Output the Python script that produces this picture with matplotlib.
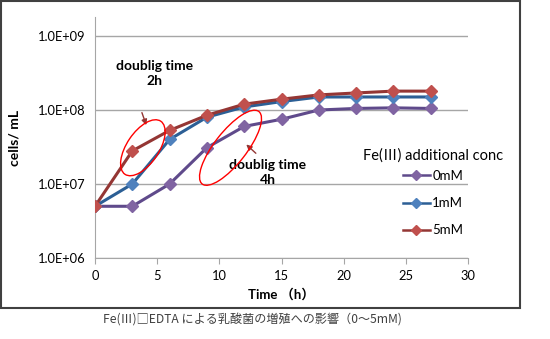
import matplotlib
matplotlib.use("Agg")
from matplotlib import pyplot as plt
from matplotlib.patches import Ellipse, Rectangle
from matplotlib.transforms import IdentityTransform
import numpy as np

plt.rcParams['font.family'] = ['Lato', 'Noto Sans CJK JP', 'DejaVu Sans']

time_h = [0, 3, 6, 9, 12, 15, 18, 21, 24, 27]
cells_0mM = [5e6, 5e6, 1e7, 3.1e7, 6e7, 7.5e7, 1.0e8, 1.05e8, 1.07e8, 1.05e8]
cells_1mM = [5e6, 1e7, 4e7, 8e7, 1.1e8, 1.3e8, 1.5e8, 1.5e8, 1.5e8, 1.5e8]
cells_5mM = [5e6, 2.8e7, 5.3e7, 8.5e7, 1.2e8, 1.4e8, 1.6e8, 1.7e8, 1.8e8, 1.8e8]

series = [
    ("0mM", cells_0mM, "#5f4a8b", "#8064a2"),
    ("1mM", cells_1mM, "#2c5f95", "#4f81bd"),
    ("5mM", cells_5mM, "#943634", "#c0504d"),
]

y_ticks = [1e6, 1e7, 1e8, 1e9]
y_labels = ["1.0E+06", "1.0E+07", "1.0E+08", "1.0E+09"]
x_ticks = [0, 5, 10, 15, 20, 25, 30]

fig = plt.figure(figsize=(5.5, 3.39), dpi=100)
ax = fig.add_axes([95 / 550, 81 / 339, 373 / 550, 241 / 339])

for label, values, line_c, mark_c in series:
    ax.plot(time_h, values, color=line_c, lw=2.2, marker="D", ms=6,
            mfc=mark_c, mec=mark_c, label=label, zorder=3)

ax.set_yscale("log")
ax.set_ylim(1e6, 10 ** 9.257)
ax.set_xlim(0, 30)
ax.set_yticks(y_ticks)
ax.set_yticklabels(y_labels)
ax.minorticks_off()
ax.set_xticks(x_ticks)
ax.yaxis.grid(True, color="#a6a6a6", lw=1)
ax.set_axisbelow(True)
for s in ["top", "right"]:
    ax.spines[s].set_visible(False)
for s in ["left", "bottom"]:
    ax.spines[s].set_color("#a6a6a6")
ax.tick_params(axis="both", colors="#a6a6a6", labelcolor="black",
               labelsize=9.3, length=4)
ax.tick_params(axis="y", length=0, pad=7)
ax.tick_params(axis="x", pad=5)

ax.set_xlabel("Time \uff08h\uff09", fontweight="bold", fontsize=9.5, labelpad=4)
ax.set_ylabel("cells/ mL", fontweight="bold", fontsize=10, labelpad=12)

leg = ax.legend(title="Fe(\u2162) additional conc", loc="upper left",
                bbox_to_anchor=(0.705, 0.475), frameon=False, fontsize=9.5,
                title_fontsize=10.5, handlelength=2.0, handletextpad=0.2,
                labelspacing=1.15, borderaxespad=0, markerscale=0.8)
leg._legend_box.align = "center"
leg._legend_box.sep = 5
for line in leg.get_lines():
    line.set_linewidth(1.8)

ax.text(4.8, 10 ** 8.5, "doublig time\n2h", ha="center", va="center",
        fontweight="bold", fontsize=10, linespacing=1.3)
ax.text(13.9, 10 ** 7.15, "doublig time\n4h", ha="center", va="center",
        fontweight="bold", fontsize=10, linespacing=1.3)
ax.annotate("", xy=(4.2, 10 ** 7.76), xytext=(3.7, 10 ** 8.0),
            arrowprops=dict(arrowstyle="-|>", color="#943634", lw=1,
                            mutation_scale=8))
ax.annotate("", xy=(12.0, 10 ** 7.56), xytext=(13.1, 10 ** 7.39),
            arrowprops=dict(arrowstyle="-|>", color="#943634", lw=1,
                            mutation_scale=8))

fig.canvas.draw()
for cx, cy, w, h, ang in [(3.85, 10 ** 7.49, 64, 32, 56),
                          (10.9, 10 ** 7.49, 92, 32, 52)]:
    px, py = ax.transData.transform((cx, cy))
    fig.add_artist(Ellipse((px, py), w, h, angle=ang, fill=False,
                           ec="#ff0000", lw=1, transform=IdentityTransform()))

fig.add_artist(Rectangle((0.002, 31 / 339), 519 / 550, 307 / 339,
                         transform=fig.transFigure, fill=False,
                         ec="#404040", lw=1.5))

fig.text(252 / 550, 1 - 320 / 339,
         "Fe(\u2162)\u25a1EDTA による乳酸菌の増殖への影響（0～5mM)",
         ha="center", va="center", fontsize=8.7, color="#404040",
         family=["Noto Sans CJK JP", "DejaVu Sans"])

fig.savefig("out.png", dpi=100)
